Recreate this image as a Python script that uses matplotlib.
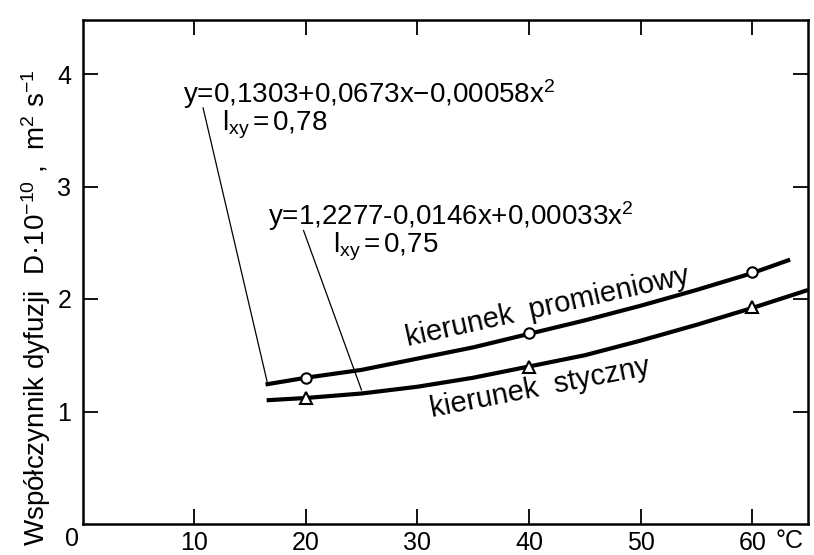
import matplotlib
matplotlib.use("Agg")
import matplotlib.pyplot as plt

FONT = ['Liberation Sans', 'DejaVu Sans']
plt.rcParams['font.family'] = FONT
plt.rcParams['mathtext.fontset'] = 'custom'
plt.rcParams['mathtext.rm'] = 'Liberation Sans'
plt.rcParams['mathtext.it'] = 'Liberation Sans'
plt.rcParams['mathtext.sf'] = 'Liberation Sans'

# ---- data ----
x_ticks = [10, 20, 30, 40, 50, 60]
y_ticks = [1, 2, 3, 4]

# fitted curves
prom_curve_x = [16.4, 20, 25, 30, 35, 40, 45, 50, 55, 60, 63.4]
prom_curve_y = [1.24, 1.30, 1.37, 1.47, 1.57, 1.69, 1.81, 1.94, 2.08, 2.23, 2.35]
styc_curve_x = [16.5, 20, 25, 30, 35, 40, 45, 50, 55, 60, 65]
styc_curve_y = [1.10, 1.12, 1.16, 1.22, 1.30, 1.40, 1.50, 1.63, 1.77, 1.92, 2.08]

# measured points
meas_x = [20, 40, 60]
prom_y = [1.30, 1.70, 2.24]
styc_y = [1.12, 1.40, 1.93]

eq1 = "y=0,1303+0,0673x\u22120,00058x$^{2}$"
r1 = "l$_{\\mathrm{xy}}$$\\,$=$\\,$0,78"
eq2 = "y=1,2277-0,0146x+0,00033x$^{2}$"
r2 = "l$_{\\mathrm{xy}}$$\\,$=$\\,$0,75"
ylabel = "Współczynnik dyfuzji  D\u00b710$^{-10}$ ,  m$^{2}$ s$^{-1}$"

W, H = 814, 555
fig = plt.figure(figsize=(W / 100, H / 100), dpi=100)
ax = fig.add_axes([82.5 / W, 1 - 524 / H, (808 - 82.5) / W, (524 - 20) / H])
ax.set_xlim(0, 65)
ax.set_ylim(0, 4.48)

for s in ax.spines.values():
    s.set_linewidth(1.8)

ax.plot(prom_curve_x, prom_curve_y, color='black', lw=3.0, solid_capstyle='butt', zorder=3)
ax.plot(styc_curve_x, styc_curve_y, color='black', lw=3.0, solid_capstyle='butt', zorder=3)
ax.plot(meas_x, prom_y, ls='none', marker='o', ms=7.5, mfc='white', mec='black', mew=1.5, zorder=4)
ax.plot(meas_x, styc_y, ls='none', marker='^', ms=8.5, mfc='white', mec='black', mew=1.5, zorder=4)

ax.set_xticks(x_ticks)
ax.set_xticklabels([str(v) for v in x_ticks])
ax.set_yticks(y_ticks)
ax.set_yticklabels([str(v) for v in y_ticks])
ax.tick_params(direction='in', length=11, width=1.3, labelsize=18, top=True, right=True)
ax.tick_params(axis='x', pad=5)
ax.tick_params(axis='y', pad=8)

# zero at the corner and unit
ax.text(-0.9, -0.13, "0", fontsize=18, ha='center', va='center', clip_on=False)
ax.text(63.3, -0.15, "°C", fontsize=18, ha='center', va='center', clip_on=False)

# equations
ax.text(9.0, 3.74, eq1, fontsize=20, ha='left', va='baseline')
ax.text(12.5, 3.50, r1, fontsize=20, ha='left', va='baseline')
ax.text(16.6, 2.66, eq2, fontsize=20, ha='left', va='baseline')
ax.text(22.4, 2.41, r2, fontsize=20, ha='left', va='baseline')

# leader lines
ax.annotate("", xy=(prom_curve_x[0] + 0.2, prom_curve_y[0]), xytext=(10.8, 3.70),
            arrowprops=dict(arrowstyle='-', lw=0.9, color='black', shrinkA=0, shrinkB=0))
ax.annotate("", xy=(styc_curve_x[2], 1.19), xytext=(19.8, 2.61),
            arrowprops=dict(arrowstyle='-', lw=0.9, color='black', shrinkA=0, shrinkB=0))

# curve labels
ax.text(41.7, 1.93, "kierunek  promieniowy", fontsize=21, rotation=12.5,
        ha='center', va='center', rotation_mode='anchor')
ax.text(41.0, 1.21, "kierunek  styczny", fontsize=21, rotation=11,
        ha='center', va='center', rotation_mode='anchor')

fig.text(36 / W, 1 - 308 / H, ylabel, fontsize=20, rotation=90, ha='center', va='center')

fig.savefig("out.png", dpi=100)
